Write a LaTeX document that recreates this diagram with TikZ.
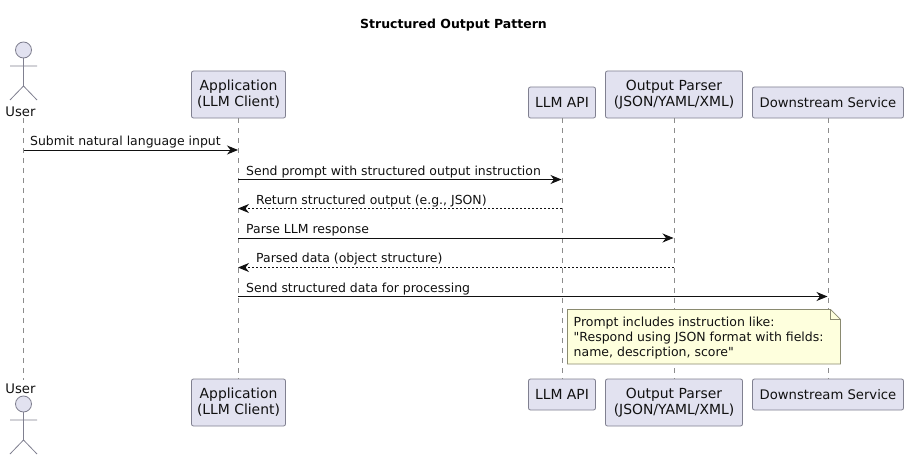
\documentclass[tikz,border=0pt]{standalone}
\usepackage{fontspec}
\setmainfont{DejaVu Sans}
\newfontfamily\notefont{DejaVu Sans}
\usetikzlibrary{arrows.meta}
\definecolor{partfill}{HTML}{E2E2F0}
\definecolor{partline}{HTML}{808090}
\definecolor{lifeline}{HTML}{8C8C8C}
\definecolor{notefill}{HTML}{FEFFDD}
\definecolor{noteline}{HTML}{8A8A70}
\definecolor{ink}{HTML}{111111}
\tikzset{
  x=1pt,y=-1pt,
  partbox/.style={draw=partline,fill=partfill,rounded corners=2pt,line width=0.8pt,inner sep=0pt,align=center,text=ink,font=\fontsize{13.9}{16.2}\selectfont},
  svcbox/.style={partbox,font=\fontsize{13.2}{16}\selectfont},
  actorlabel/.style={inner sep=0pt,text=ink,font=\fontsize{13.2}{15.5}\selectfont},
  actorline/.style={draw=partline,line width=0.8pt},
  lifel/.style={draw=lifeline,line width=0.7pt,dash pattern=on 5pt off 5pt},
  msg/.style={draw=ink,line width=0.9pt,-{Stealth[length=11pt,width=9pt,inset=3.5pt]}},
  reply/.style={msg,dash pattern=on 2pt off 2pt},
  msglabel/.style={inner sep=0pt,anchor=base west,text=ink,font=\fontsize{12.45}{14}\selectfont},
  notetext/.style={inner sep=0pt,anchor=north west,align=left,text=ink,font=\notefont\fontsize{12.5}{15.3}\selectfont},
}
\begin{document}
\begin{tikzpicture}
\useasboundingbox (0,0) rectangle (908,460);
\fill[white] (0,0) rectangle (908,460);
\node[inner sep=0pt,text=black,font=\bfseries\fontsize{12.5}{15}\selectfont] (title) at (453.5,25) {Structured Output Pattern};

% participants, top row
\node[partbox,minimum width=94pt,minimum height=47pt] (appT) at (238.5,94.5) {Application\\(LLM Client)};
\node[partbox,minimum width=67pt,minimum height=31pt] (apiT) at (562,102.5) {LLM API};
\node[partbox,minimum width=137pt,minimum height=47pt] (parT) at (674,94.5) {Output Parser\\(JSON/YAML/XML)};
\node[svcbox,minimum width=151pt,minimum height=31pt] (svcT) at (828,102.5) {Downstream Service};
% participants, bottom row
\node[partbox,minimum width=94pt,minimum height=47pt] (appB) at (238.5,402.5) {Application\\(LLM Client)};
\node[partbox,minimum width=67pt,minimum height=31pt] (apiB) at (562,394.5) {LLM API};
\node[partbox,minimum width=137pt,minimum height=47pt] (parB) at (674,402.5) {Output Parser\\(JSON/YAML/XML)};
\node[svcbox,minimum width=151pt,minimum height=31pt] (svcB) at (828,394.5) {Downstream Service};
% actor labels
\node[actorlabel] (userT) at (20.5,111.5) {User};
\node[actorlabel] (userB) at (20.5,388.5) {User};

% lifelines
\coordinate (uT) at (23.5,118);
\coordinate (uB) at (23.5,380);
\draw[lifel] (uT) -- (uB);
\draw[lifel] (appT.south) -- (appB.north);
\draw[lifel] (apiT.south) -- (apiB.north);
\draw[lifel] (parT.south) -- (parB.north);
\draw[lifel] (svcT.south) -- (svcB.north);

% actors
\draw[actorline,fill=partfill] (23.5,50) circle (8);
\draw[actorline] (23.5,58) -- (23.5,86) (10,66) -- (37,66) (10,100) -- (23.5,86) -- (37,100);
\draw[actorline,fill=partfill] (23.5,404) circle (8);
\draw[actorline] (23.5,412) -- (23.5,440) (10,420) -- (37,420) (10,454) -- (23.5,440) -- (37,454);

% messages
\coordinate (m1a) at (23.5,150); \coordinate (m1b) at (238,150);
\coordinate (m2a) at (238,179.5); \coordinate (m2b) at (561.5,179.5);
\coordinate (m3a) at (561.5,208.5); \coordinate (m3b) at (238,208.5);
\coordinate (m4a) at (238,238); \coordinate (m4b) at (673.5,238);
\coordinate (m5a) at (673.5,267.5); \coordinate (m5b) at (238,267.5);
\coordinate (m6a) at (238,296.5); \coordinate (m6b) at (827.5,296.5);
\draw[msg] (m1a) -- (m1b);
\draw[msg] (m2a) -- (m2b);
\draw[reply] (m3a) -- (m3b);
\draw[msg] (m4a) -- (m4b);
\draw[reply] (m5a) -- (m5b);
\draw[msg] (m6a) -- (m6b);
\node[msglabel] (l1) at (30,145.5) {Submit natural language input};
\node[msglabel] (l2) at (246,175) {Send prompt with structured output instruction};
\node[msglabel] (l3) at (256,204) {Return structured output (e.g., JSON)};
\node[msglabel] (l4) at (246,233) {Parse LLM response};
\node[msglabel] (l5) at (256,262.5) {Parsed data (object structure)};
\node[msglabel] (l6) at (246,292) {Send structured data for processing};

% note
\draw[draw=noteline,fill=notefill,line width=0.7pt] (567.5,309.5) -- (830.5,309.5) -- (840.5,319.5) -- (840.5,364) -- (567.5,364) -- cycle;
\draw[draw=noteline,line width=0.7pt] (830.5,309.5) -- (830.5,319.5) -- (840.5,319.5);
\node[notetext] (note) at (573.5,316.5) {Prompt includes instruction like:\\"Respond using JSON format with fields:\\name, description, score"};
\end{tikzpicture}
\end{document}
